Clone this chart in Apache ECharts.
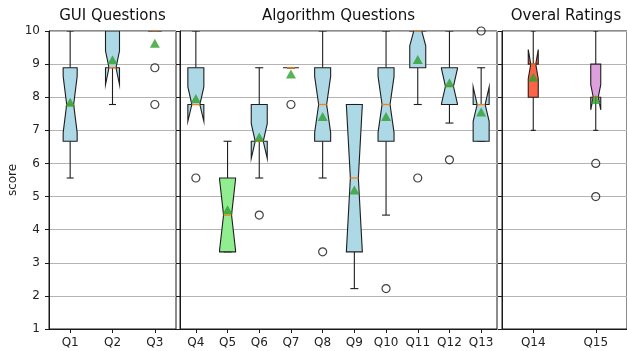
<!DOCTYPE html>
<html><head><meta charset="utf-8">
<script src="https://cdn.jsdelivr.net/npm/echarts@6/dist/echarts.min.js"></script>
<style>html,body{margin:0;padding:0;background:#fff}#c{width:627px;height:351px}</style>
</head><body><div id="c"></div>
<script>
// ---- data ----
const guiQuestions = ['Q1','Q2','Q3'];
const algorithmQuestions = ['Q4','Q5','Q6','Q7','Q8','Q9','Q10','Q11','Q12','Q13'];
const overallQuestions = ['Q14','Q15'];
const panelTitles = ['GUI Questions','Algorithm Questions','Overal Ratings'];
const yAxisName = 'score';
const yMin = 1, yMax = 10, yStep = 1;

// per question Q1..Q15
const whiskerLow =  [5.56, 7.78, 10,   7.78, 3.33, 5.56, 8.89, 5.56, 2.22, 4.44, 7.78, 7.22, 6.67, 7,    7   ];
const boxLow =      [6.67, 8.89, 10,   7.78, 3.33, 6.67, 8.89, 6.67, 3.33, 6.67, 8.89, 7.78, 6.67, 8,    8   ];
const medians =     [7.78, 8.89, 10,   7.78, 4.44, 6.67, 8.89, 7.78, 5.56, 7.78, 10,   8.33, 7.78, 9,    8   ];
const boxHigh =     [8.89, 10,   10,   8.89, 5.56, 7.78, 8.89, 8.89, 7.78, 8.89, 10,   8.89, 7.78, 9,    9   ];
const whiskerHigh = [10,   10,   10,   10,   6.67, 8.89, 8.89, 10,   7.78, 10,   10,   10,   8.89, 10,   10  ];
const notchLow =    [6.93, 8.38, 10,   7.27, 3.38, 6.15, 8.89, 6.93, 3.33, 6.93, 9.55, 7.80, 7.27, 8.56, 7.62];
const notchHigh =   [8.63, 9.40, 10,   8.31, 5.52, 7.20, 8.89, 8.63, 7.78, 8.63, 10.45,8.86, 8.31, 9.44, 8.38];
const means =       [7.85, 9.13, 9.63, 7.96, 4.60, 6.80, 8.70, 7.42, 5.20, 7.42, 9.14, 8.44, 7.55, 8.60, 7.93];
const outliers =    [[], [], [8.89, 7.78], [5.56], [], [4.44], [7.78], [3.33], [], [2.22], [5.56], [6.11], [10], [], [6, 5]];

// ---- styles / layout ----
const boxColors = ['#add8e6','#add8e6','#add8e6','#add8e6','#90ee90','#add8e6','#add8e6','#add8e6','#add8e6','#add8e6','#add8e6','#add8e6','#add8e6','#ff6347','#dda0dd'];
const FONT = 'DejaVu Sans';
const gridTop = 31, gridBottom = 22;
const panels = [
  {cats: guiQuestions, left: 49, width: 127, boxHalf: 7},
  {cats: algorithmQuestions, left: 180, width: 317, boxHalf: 8},
  {cats: overallQuestions, left: 502, width: 128, boxHalf: 5}
];

const allQuestions = guiQuestions.concat(algorithmQuestions, overallQuestions);

function makeRender(half) {
  return function (params, api) {
    const i = api.value(0);
    const wl = api.value(1), bl = api.value(2), md = api.value(3), bh = api.value(4),
          wh = api.value(5), nl = api.value(6), nh = api.value(7), ci = api.value(8);
    const x = api.coord([i, md])[0];
    const y = v => api.coord([i, v])[1];
    const q = half / 2;
    const edge = {stroke: '#1e1e1e', lineWidth: 1.1, fill: null};
    return {
      type: 'group',
      children: [
        {type: 'line', shape: {x1: x, y1: y(bl), x2: x, y2: y(wl)}, style: edge},
        {type: 'line', shape: {x1: x, y1: y(bh), x2: x, y2: y(wh)}, style: edge},
        {type: 'line', shape: {x1: x - q, y1: y(wl), x2: x + q, y2: y(wl)}, style: edge},
        {type: 'line', shape: {x1: x - q, y1: y(wh), x2: x + q, y2: y(wh)}, style: edge},
        {type: 'polygon', shape: {points: [
          [x - half, y(bl)], [x - half, y(nl)], [x - q, y(md)], [x - half, y(nh)], [x - half, y(bh)],
          [x + half, y(bh)], [x + half, y(nh)], [x + q, y(md)], [x + half, y(nl)], [x + half, y(bl)]
        ]}, style: {fill: boxColors[ci], stroke: '#1e1e1e', lineWidth: 1.1}},
        {type: 'line', shape: {x1: x - q, y1: y(md), x2: x + q, y2: y(md)}, style: {stroke: '#ff7f0e', lineWidth: 1.3}}
      ]
    };
  };
}

const grid = [], xAxis = [], yAxis = [], series = [], title = [];
panels.forEach((p, g) => {
  grid.push({left: p.left, width: p.width, top: gridTop, bottom: gridBottom, show: true,
             borderColor: '#1a1a1a', borderWidth: 1, backgroundColor: 'transparent'});
  title.push({text: panelTitles[g], left: p.left + p.width / 2, top: 9, padding: 0, textAlign: 'center',
              textStyle: {fontFamily: FONT, fontSize: 15, fontWeight: 'normal', color: '#111'}});
  xAxis.push({type: 'category', gridIndex: g, data: p.cats, boundaryGap: true,
              axisLine: {show: true, lineStyle: {color: '#1a1a1a'}},
              axisTick: {show: true, alignWithLabel: true, interval: 0, length: 4, lineStyle: {color: '#1a1a1a'}},
              axisLabel: {interval: 0, hideOverlap: false, fontFamily: FONT, fontSize: 12, color: '#222', margin: 8},
              splitLine: {show: false}});
  yAxis.push({type: 'value', gridIndex: g, min: yMin, max: yMax, interval: yStep,
              name: g === 0 ? yAxisName : '', nameLocation: 'middle', nameGap: 30, nameRotate: 90,
              nameTextStyle: {fontFamily: FONT, fontSize: 12, color: '#222'},
              axisLine: {show: true, lineStyle: {color: '#1a1a1a'}},
              axisTick: {show: true, length: 4, lineStyle: {color: '#1a1a1a'}},
              axisLabel: {show: g === 0, fontFamily: FONT, fontSize: 12, color: '#222', margin: 9},
              splitLine: {show: true, lineStyle: {color: '#b4b4b4', width: 1}}});
  const boxData = [], meanData = [], outData = [];
  p.cats.forEach((c, j) => {
    const k = allQuestions.indexOf(c);
    boxData.push([j, whiskerLow[k], boxLow[k], medians[k], boxHigh[k], whiskerHigh[k], notchLow[k], notchHigh[k], k]);
    meanData.push([j, means[k]]);
    outliers[k].forEach(v => outData.push([j, v]));
  });
  series.push({type: 'custom', xAxisIndex: g, yAxisIndex: g, clip: true, z: 2,
               renderItem: makeRender(p.boxHalf), data: boxData,
               encode: {x: 0, y: [1, 2, 3, 4, 5]}});
  series.push({type: 'scatter', xAxisIndex: g, yAxisIndex: g, z: 3, data: outData, clip: false,
               symbol: 'circle', symbolSize: 8,
               itemStyle: {color: 'rgba(0,0,0,0)', borderColor: '#111', borderWidth: 1.2}});
  series.push({type: 'scatter', xAxisIndex: g, yAxisIndex: g, z: 4, data: meanData,
               symbol: 'triangle', symbolSize: [10, 9], itemStyle: {color: '#2ca02c'}});
});

const chart = echarts.init(document.getElementById('c'), null, {renderer: 'canvas'});
chart.setOption({animation: false, backgroundColor: '#fff', title, grid, xAxis, yAxis, series});
</script>
</body></html>
